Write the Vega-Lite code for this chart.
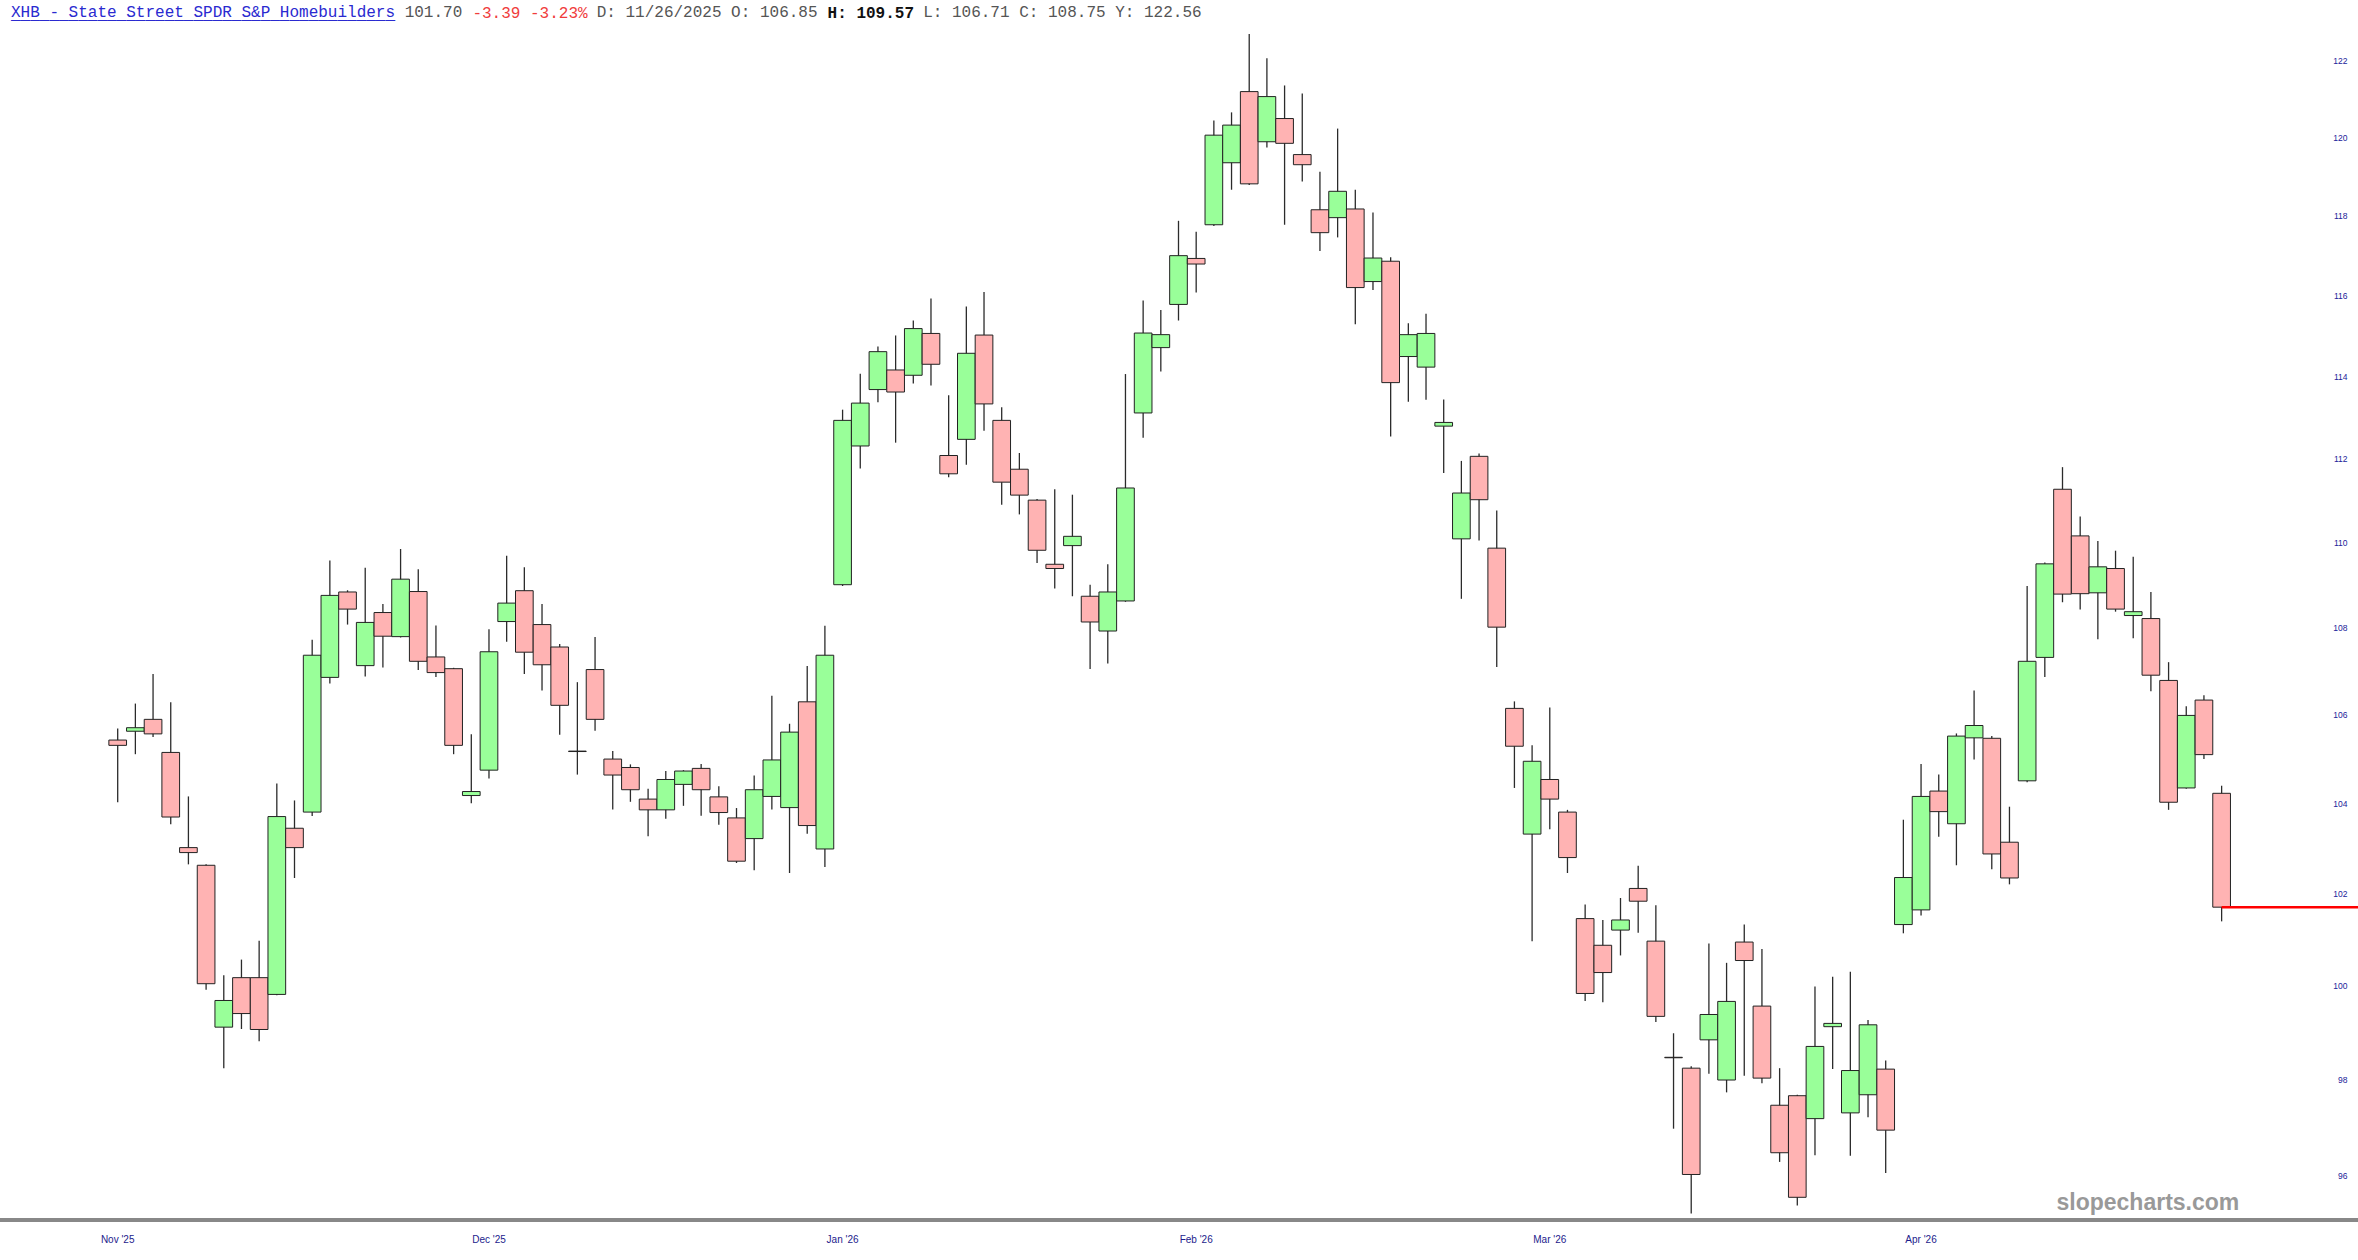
{
  "$schema": "https://vega.github.io/schema/vega-lite/v6.json",
  "width": 2358,
  "height": 1196,
  "autosize": {"type": "none"},
  "padding": {"left": 0, "top": 24, "right": 0, "bottom": 40},
  "background": "#ffffff",
  "config": {"view": {"stroke": null}},
  "title": {
    "text": ["XHB - State Street SPDR S&P Homebuilders", "________________________________________"],
    "subtitle": "\u200b\u00a0\u00a0\u00a0\u00a0\u00a0\u00a0\u00a0\u00a0\u00a0\u00a0\u00a0\u00a0\u00a0\u00a0\u00a0\u00a0\u00a0\u00a0\u00a0\u00a0\u00a0\u00a0\u00a0\u00a0\u00a0\u00a0\u00a0\u00a0\u00a0\u00a0\u00a0\u00a0\u00a0\u00a0\u00a0\u00a0\u00a0\u00a0\u00a0\u00a0\u00a0101.70\u00a0\u00a0\u00a0\u00a0\u00a0\u00a0\u00a0\u00a0\u00a0\u00a0\u00a0\u00a0\u00a0\u00a0D: 11/26/2025 O: 106.85\u00a0\u00a0\u00a0\u00a0\u00a0\u00a0\u00a0\u00a0\u00a0\u00a0\u00a0L: 106.71 C: 108.75 Y: 122.56",
    "anchor": "start",
    "frame": "group",
    "dx": 11,
    "offset": -18,
    "font": "Liberation Mono",
    "fontSize": 16,
    "fontWeight": "normal",
    "color": "#2a2ad0",
    "lineHeight": 2,
    "subtitleFont": "Liberation Mono",
    "subtitleFontSize": 16,
    "subtitleColor": "#555555",
    "subtitlePadding": -18
  },
  "data": {
    "values": [
      {"d": "2025-11-03", "o": 105.42, "h": 105.68, "l": 104.02, "c": 105.30},
      {"d": "2025-11-04", "o": 105.62, "h": 106.25, "l": 105.10, "c": 105.70},
      {"d": "2025-11-05", "o": 105.89, "h": 106.93, "l": 105.49, "c": 105.56},
      {"d": "2025-11-06", "o": 105.14, "h": 106.28, "l": 103.53, "c": 103.69},
      {"d": "2025-11-07", "o": 103.01, "h": 104.15, "l": 102.64, "c": 102.90},
      {"d": "2025-11-10", "o": 102.62, "h": 102.64, "l": 99.91, "c": 100.04},
      {"d": "2025-11-11", "o": 99.11, "h": 100.22, "l": 98.24, "c": 99.68},
      {"d": "2025-11-12", "o": 100.17, "h": 100.56, "l": 99.07, "c": 99.40},
      {"d": "2025-11-13", "o": 100.17, "h": 100.97, "l": 98.81, "c": 99.06},
      {"d": "2025-11-14", "o": 99.81, "h": 104.44, "l": 99.79, "c": 103.70},
      {"d": "2025-11-17", "o": 103.44, "h": 104.06, "l": 102.34, "c": 103.01},
      {"d": "2025-11-18", "o": 103.80, "h": 107.72, "l": 103.71, "c": 107.36},
      {"d": "2025-11-19", "o": 106.85, "h": 109.57, "l": 106.71, "c": 108.75},
      {"d": "2025-11-20", "o": 108.83, "h": 108.87, "l": 108.07, "c": 108.43},
      {"d": "2025-11-21", "o": 107.12, "h": 109.40, "l": 106.87, "c": 108.12},
      {"d": "2025-11-24", "o": 108.35, "h": 108.55, "l": 107.08, "c": 107.80},
      {"d": "2025-11-25", "o": 107.79, "h": 109.84, "l": 107.77, "c": 109.13},
      {"d": "2025-11-26", "o": 108.84, "h": 109.36, "l": 107.02, "c": 107.22},
      {"d": "2025-11-28", "o": 107.32, "h": 108.05, "l": 106.86, "c": 106.96},
      {"d": "2025-12-01", "o": 107.05, "h": 107.07, "l": 105.10, "c": 105.30},
      {"d": "2025-12-02", "o": 104.17, "h": 105.55, "l": 104.00, "c": 104.26},
      {"d": "2025-12-03", "o": 104.74, "h": 107.96, "l": 104.55, "c": 107.44},
      {"d": "2025-12-04", "o": 108.14, "h": 109.68, "l": 107.67, "c": 108.57},
      {"d": "2025-12-05", "o": 108.86, "h": 109.41, "l": 106.93, "c": 107.43},
      {"d": "2025-12-08", "o": 108.07, "h": 108.55, "l": 106.55, "c": 107.14},
      {"d": "2025-12-09", "o": 107.55, "h": 107.62, "l": 105.54, "c": 106.21},
      {"d": "2025-12-10", "o": 105.17, "h": 106.74, "l": 104.64, "c": 105.16},
      {"d": "2025-12-11", "o": 107.03, "h": 107.78, "l": 105.63, "c": 105.89},
      {"d": "2025-12-12", "o": 104.99, "h": 105.17, "l": 103.86, "c": 104.63},
      {"d": "2025-12-15", "o": 104.80, "h": 104.87, "l": 104.03, "c": 104.30},
      {"d": "2025-12-16", "o": 104.09, "h": 104.32, "l": 103.26, "c": 103.85},
      {"d": "2025-12-17", "o": 103.85, "h": 104.72, "l": 103.65, "c": 104.53},
      {"d": "2025-12-18", "o": 104.42, "h": 104.74, "l": 103.94, "c": 104.72},
      {"d": "2025-12-19", "o": 104.78, "h": 104.88, "l": 103.72, "c": 104.30},
      {"d": "2025-12-22", "o": 104.14, "h": 104.38, "l": 103.52, "c": 103.79},
      {"d": "2025-12-23", "o": 103.67, "h": 103.89, "l": 102.67, "c": 102.71},
      {"d": "2025-12-24", "o": 103.21, "h": 104.62, "l": 102.51, "c": 104.30},
      {"d": "2025-12-26", "o": 104.15, "h": 106.43, "l": 103.86, "c": 104.97},
      {"d": "2025-12-29", "o": 103.90, "h": 105.79, "l": 102.45, "c": 105.60},
      {"d": "2025-12-30", "o": 106.29, "h": 107.11, "l": 103.32, "c": 103.50},
      {"d": "2025-12-31", "o": 102.98, "h": 108.04, "l": 102.58, "c": 107.36},
      {"d": "2026-01-02", "o": 109.00, "h": 113.18, "l": 108.97, "c": 112.92},
      {"d": "2026-01-05", "o": 112.30, "h": 114.06, "l": 111.76, "c": 113.34},
      {"d": "2026-01-06", "o": 113.67, "h": 114.73, "l": 113.36, "c": 114.60},
      {"d": "2026-01-07", "o": 114.15, "h": 115.00, "l": 112.38, "c": 113.61},
      {"d": "2026-01-08", "o": 114.02, "h": 115.37, "l": 113.82, "c": 115.17},
      {"d": "2026-01-09", "o": 115.05, "h": 115.92, "l": 113.77, "c": 114.29},
      {"d": "2026-01-12", "o": 112.07, "h": 113.53, "l": 111.55, "c": 111.63},
      {"d": "2026-01-13", "o": 112.46, "h": 115.72, "l": 111.85, "c": 114.56},
      {"d": "2026-01-14", "o": 115.01, "h": 116.08, "l": 112.67, "c": 113.32},
      {"d": "2026-01-15", "o": 112.92, "h": 113.24, "l": 110.89, "c": 111.43},
      {"d": "2026-01-16", "o": 111.74, "h": 112.13, "l": 110.66, "c": 111.12},
      {"d": "2026-01-20", "o": 111.00, "h": 111.03, "l": 109.51, "c": 109.81},
      {"d": "2026-01-21", "o": 109.48, "h": 111.26, "l": 108.91, "c": 109.38},
      {"d": "2026-01-22", "o": 109.92, "h": 111.13, "l": 108.73, "c": 110.14},
      {"d": "2026-01-23", "o": 108.73, "h": 109.00, "l": 107.04, "c": 108.13},
      {"d": "2026-01-26", "o": 107.92, "h": 109.48, "l": 107.17, "c": 108.83},
      {"d": "2026-01-27", "o": 108.62, "h": 114.05, "l": 108.60, "c": 111.29},
      {"d": "2026-01-28", "o": 113.10, "h": 115.87, "l": 112.50, "c": 115.06},
      {"d": "2026-01-29", "o": 114.70, "h": 115.63, "l": 114.11, "c": 115.02},
      {"d": "2026-01-30", "o": 115.77, "h": 117.87, "l": 115.37, "c": 116.99},
      {"d": "2026-02-02", "o": 116.92, "h": 117.59, "l": 116.07, "c": 116.78},
      {"d": "2026-02-03", "o": 117.77, "h": 120.44, "l": 117.74, "c": 120.06},
      {"d": "2026-02-04", "o": 119.35, "h": 120.65, "l": 118.66, "c": 120.32},
      {"d": "2026-02-05", "o": 121.19, "h": 122.70, "l": 118.78, "c": 118.81},
      {"d": "2026-02-06", "o": 119.89, "h": 122.06, "l": 119.74, "c": 121.06},
      {"d": "2026-02-09", "o": 120.49, "h": 121.35, "l": 117.77, "c": 119.85},
      {"d": "2026-02-10", "o": 119.56, "h": 121.14, "l": 118.87, "c": 119.30},
      {"d": "2026-02-11", "o": 118.15, "h": 119.12, "l": 117.11, "c": 117.57},
      {"d": "2026-02-12", "o": 117.95, "h": 120.23, "l": 117.45, "c": 118.62},
      {"d": "2026-02-13", "o": 118.17, "h": 118.66, "l": 115.28, "c": 116.19},
      {"d": "2026-02-17", "o": 116.34, "h": 118.08, "l": 116.13, "c": 116.93},
      {"d": "2026-02-18", "o": 116.85, "h": 116.95, "l": 112.53, "c": 113.84},
      {"d": "2026-02-19", "o": 114.48, "h": 115.30, "l": 113.37, "c": 115.02},
      {"d": "2026-02-20", "o": 114.22, "h": 115.54, "l": 113.42, "c": 115.05},
      {"d": "2026-02-23", "o": 112.78, "h": 113.43, "l": 111.65, "c": 112.87},
      {"d": "2026-02-24", "o": 110.08, "h": 111.94, "l": 108.67, "c": 111.17},
      {"d": "2026-02-25", "o": 112.05, "h": 112.12, "l": 110.04, "c": 111.01},
      {"d": "2026-02-26", "o": 109.86, "h": 110.75, "l": 107.09, "c": 108.01},
      {"d": "2026-02-27", "o": 106.14, "h": 106.30, "l": 104.34, "c": 105.28},
      {"d": "2026-03-02", "o": 103.31, "h": 105.30, "l": 100.96, "c": 104.94},
      {"d": "2026-03-03", "o": 104.53, "h": 106.16, "l": 103.42, "c": 104.09},
      {"d": "2026-03-04", "o": 103.80, "h": 103.85, "l": 102.45, "c": 102.79},
      {"d": "2026-03-05", "o": 101.45, "h": 101.76, "l": 99.67, "c": 99.83},
      {"d": "2026-03-06", "o": 100.87, "h": 101.42, "l": 99.64, "c": 100.28},
      {"d": "2026-03-09", "o": 101.20, "h": 101.90, "l": 100.65, "c": 101.42},
      {"d": "2026-03-10", "o": 102.11, "h": 102.61, "l": 101.14, "c": 101.83},
      {"d": "2026-03-11", "o": 100.96, "h": 101.74, "l": 99.22, "c": 99.34},
      {"d": "2026-03-12", "o": 98.47, "h": 98.98, "l": 96.97, "c": 98.46},
      {"d": "2026-03-13", "o": 98.24, "h": 98.28, "l": 95.22, "c": 96.02},
      {"d": "2026-03-16", "o": 98.84, "h": 100.91, "l": 98.12, "c": 99.38},
      {"d": "2026-03-17", "o": 97.99, "h": 100.49, "l": 97.73, "c": 99.66},
      {"d": "2026-03-18", "o": 100.94, "h": 101.32, "l": 98.08, "c": 100.54},
      {"d": "2026-03-19", "o": 99.56, "h": 100.79, "l": 97.92, "c": 98.03},
      {"d": "2026-03-20", "o": 97.46, "h": 98.24, "l": 96.28, "c": 96.47},
      {"d": "2026-03-23", "o": 97.66, "h": 97.68, "l": 95.38, "c": 95.55},
      {"d": "2026-03-24", "o": 97.18, "h": 99.98, "l": 96.42, "c": 98.70},
      {"d": "2026-03-25", "o": 99.12, "h": 100.19, "l": 98.22, "c": 99.19},
      {"d": "2026-03-26", "o": 97.30, "h": 100.30, "l": 96.41, "c": 98.19},
      {"d": "2026-03-27", "o": 97.68, "h": 99.26, "l": 97.21, "c": 99.16},
      {"d": "2026-03-30", "o": 98.22, "h": 98.40, "l": 96.05, "c": 96.94},
      {"d": "2026-03-31", "o": 101.32, "h": 103.63, "l": 101.13, "c": 102.35},
      {"d": "2026-04-01", "o": 101.64, "h": 104.88, "l": 101.52, "c": 104.15},
      {"d": "2026-04-02", "o": 104.27, "h": 104.64, "l": 103.25, "c": 103.81},
      {"d": "2026-04-06", "o": 103.54, "h": 105.57, "l": 102.62, "c": 105.51},
      {"d": "2026-04-07", "o": 105.47, "h": 106.55, "l": 104.98, "c": 105.75},
      {"d": "2026-04-08", "o": 105.46, "h": 105.51, "l": 102.53, "c": 102.87},
      {"d": "2026-04-09", "o": 103.13, "h": 103.92, "l": 102.20, "c": 102.34},
      {"d": "2026-04-10", "o": 104.50, "h": 108.97, "l": 104.47, "c": 107.22},
      {"d": "2026-04-13", "o": 107.31, "h": 109.52, "l": 106.86, "c": 109.49},
      {"d": "2026-04-14", "o": 111.26, "h": 111.79, "l": 108.59, "c": 108.78},
      {"d": "2026-04-15", "o": 110.15, "h": 110.61, "l": 108.42, "c": 108.79},
      {"d": "2026-04-16", "o": 108.81, "h": 110.03, "l": 107.73, "c": 109.42},
      {"d": "2026-04-17", "o": 109.38, "h": 109.80, "l": 108.37, "c": 108.43},
      {"d": "2026-04-20", "o": 108.28, "h": 109.66, "l": 107.75, "c": 108.37},
      {"d": "2026-04-21", "o": 108.21, "h": 108.83, "l": 106.53, "c": 106.90},
      {"d": "2026-04-22", "o": 106.78, "h": 107.20, "l": 103.85, "c": 104.02},
      {"d": "2026-04-23", "o": 104.34, "h": 106.19, "l": 104.32, "c": 105.98},
      {"d": "2026-04-24", "o": 106.33, "h": 106.44, "l": 104.99, "c": 105.09},
      {"d": "2026-04-27", "o": 104.22, "h": 104.39, "l": 101.39, "c": 101.70}
    ]
  },
  "encoding": {
    "x": {
      "field": "d", "type": "ordinal",
      "scale": {"type": "band", "paddingInner": 0, "paddingOuter": 0, "range": [108.86, 2230.46]},
      "axis": {
        "values": ["2025-11-03", "2025-12-03", "2026-01-02", "2026-02-02", "2026-03-03", "2026-04-01"],
        "labelExpr": "utcFormat(toDate(datum.value), \"%b '%y\")",
        "labelAngle": 0, "labelFont": "Liberation Sans", "labelFontSize": 10, "labelColor": "#1c1c8c",
        "labelPadding": 14, "labelOverlap": false, "labelFlush": false,
        "ticks": false, "grid": false, "domain": false,
        "title": "slopecharts.com", "titleX": 2056, "titleY": -11, "titleAlign": "left",
        "titleBaseline": "alphabetic", "titleFont": "Liberation Sans", "titleFontSize": 23,
        "titleFontWeight": "bold", "titleColor": "#999999"
      }
    }
  },
  "resolve": {"axis": {"y": "independent"}},
  "layer": [
    {
      "mark": {"type": "rule", "color": "#888888", "strokeWidth": 2.5},
      "encoding": {
        "x": {"value": 0},
        "x2": {"value": "width"},
        "y": {"value": "height"}
      }
    },
    {
      "mark": {"type": "rule", "color": "#2b2b2b", "strokeWidth": 1.3},
      "encoding": {
        "y": {
          "field": "l", "type": "quantitative",
          "scale": {"type": "log", "domain": [95.085, 122.964], "nice": false, "zero": false},
          "axis": {
            "orient": "right", "offset": -11,
            "values": [96, 98, 100, 102, 104, 106, 108, 110, 112, 114, 116, 118, 120, 122],
            "format": "d", "labelAlign": "right", "labelBaseline": "middle", "labelPadding": 0,
            "labelFont": "Liberation Sans", "labelFontSize": 8.5, "labelColor": "#22229a",
            "labelOverlap": false, "labelFlush": false,
            "ticks": false, "domain": false, "grid": false,
            "title": "-3.39 -3.23%", "titleX": -1875.1, "titleY": -20, "titleAngle": 0,
            "titleAlign": "left", "titleBaseline": "top", "titleFont": "Liberation Mono",
            "titleFontSize": 16, "titleFontWeight": "normal", "titleColor": "#f03c3c"
          }
        },
        "y2": {"field": "h"}
      }
    },
    {
      "mark": {"type": "bar", "stroke": "#222222", "strokeWidth": 1},
      "encoding": {
        "y": {
          "field": "o", "type": "quantitative",
          "axis": {
            "orient": "left", "labels": false, "ticks": false, "domain": false, "grid": false,
            "title": "H: 109.57", "titleX": 827.1, "titleY": -20, "titleAngle": 0,
            "titleAlign": "left", "titleBaseline": "top", "titleFont": "Liberation Mono",
            "titleFontSize": 16, "titleFontWeight": "bold", "titleColor": "#111111"
          }
        },
        "y2": {"field": "c"},
        "fill": {"condition": {"test": "datum.c >= datum.o", "value": "#99ff99"}, "value": "#ffb3b3"}
      }
    },
    {
      "transform": [{"filter": "datum.d === '2026-04-27'"}],
      "mark": {"type": "rule", "color": "#ff0000", "strokeWidth": 2.5},
      "encoding": {
        "x2": {"value": "width"},
        "y": {"field": "c", "type": "quantitative", "axis": null}
      }
    }
  ]
}
